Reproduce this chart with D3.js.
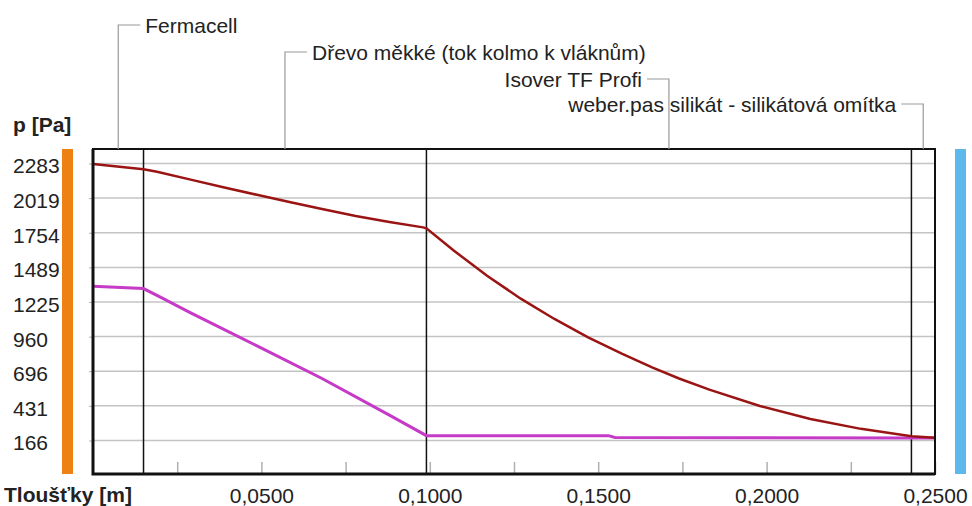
<!DOCTYPE html>
<html>
<head>
<meta charset="utf-8">
<script src="https://cdn.jsdelivr.net/npm/d3@7"></script>
<style>
  body { margin: 0; background: #fff; }
  svg { display: block; font-family: "Liberation Sans", Arial, sans-serif; }
  .tick text { fill: #222; font-size: 21px; }
</style>
</head>
<body>
<div class="chart"></div>
<script>
// layers (name, boundary at right edge in m)
var layerNames = ["Fermacell", "Dřevo měkké (tok kolmo k vláknům)", "Isover TF Profi", "weber.pas silikát - silikátová omítka"];
var layerEdges = [0, 0.015, 0.099, 0.243, 0.25];

// saturated pressure (dark red)
var satX = [0, 0.015, 0.019, 0.029, 0.039, 0.049, 0.059, 0.068, 0.078, 0.088, 0.098, 0.099,
            0.107, 0.117, 0.127, 0.137, 0.147, 0.157, 0.166, 0.174, 0.183, 0.198, 0.213, 0.228, 0.243, 0.25];
var satP = [2279, 2239, 2220, 2160, 2100, 2042, 1985, 1935, 1882, 1836, 1795, 1788,
            1620, 1425, 1250, 1095, 955, 830, 725, 640, 555, 430, 330, 255, 198, 188];

// partial pressure (magenta)
var parX = [0, 0.015, 0.020, 0.029, 0.049, 0.068, 0.088, 0.099, 0.153, 0.155, 0.243, 0.25];
var parP = [1345, 1327, 1262, 1142, 885, 640, 360, 203, 203, 189, 186, 186];

var yTicks = [166, 431, 696, 960, 1225, 1489, 1754, 2019, 2283];
var xTicks = [0.025, 0.05, 0.075, 0.1, 0.125, 0.15, 0.175, 0.2, 0.225, 0.25];

var svgWidth = 972, svgHeight = 506;
var plot = { left: 93, right: 935, top: 149, bottom: 474 };

var svg = d3.select(".chart").append("svg")
  .attr("width", svgWidth)
  .attr("height", svgHeight);

var x = d3.scaleLinear().domain([0, 0.25]).range([plot.left, plot.right]);
var y = d3.scaleLinear().domain([-90, 2394]).range([plot.bottom, plot.top]);

// side bars (interior / exterior)
svg.append("rect").attr("x", 62).attr("y", plot.top).attr("width", 11)
  .attr("height", plot.bottom - plot.top).attr("fill", "#ee8114");
svg.append("rect").attr("x", 955).attr("y", plot.top).attr("width", 11)
  .attr("height", plot.bottom - plot.top).attr("fill", "#5db9ec");

// grid lines
svg.append("g").selectAll("line")
  .data(yTicks).enter().append("line")
  .attr("x1", plot.left).attr("x2", plot.right)
  .attr("y1", d => y(d)).attr("y2", d => y(d))
  .attr("stroke", "#c4c4c4").attr("stroke-width", 1.5);

// x axis
var comma = d3.formatLocale({ decimal: ",", thousands: " ", grouping: [3], currency: ["", ""] }).format(".4f");
var xAxis = d3.axisBottom(x)
  .tickValues(xTicks)
  .tickSizeInner(-12).tickSizeOuter(0).tickPadding(14)
  .tickFormat(d => Math.round(d * 1000) % 50 === 0 ? comma(d) : "");
var gx = svg.append("g").attr("transform", `translate(0, ${plot.bottom})`).call(xAxis);
gx.select(".domain").remove();
gx.selectAll(".tick line").attr("stroke", "#b0b0b0").attr("stroke-width", 1.5);
gx.selectAll(".tick text").attr("font-family", "Liberation Sans, Arial, sans-serif");

// y axis
var yAxis = d3.axisLeft(y).tickValues(yTicks).tickSizeInner(4).tickSizeOuter(0).tickFormat(d3.format("d"));
var gy = svg.append("g").attr("transform", `translate(${plot.left}, 0)`).call(yAxis);
gy.select(".domain").remove();
gy.selectAll(".tick line").attr("stroke", "#b0b0b0");
gy.selectAll(".tick text")
  .attr("x", 13 - plot.left)
  .attr("dy", "0.45em")
  .attr("text-anchor", "start")
  .attr("font-family", "Liberation Sans, Arial, sans-serif");

// layer boundaries
svg.append("g").selectAll("line")
  .data(layerEdges.slice(1, -1)).enter().append("line")
  .attr("x1", d => x(d)).attr("x2", d => x(d))
  .attr("y1", plot.top).attr("y2", plot.bottom)
  .attr("stroke", "#111").attr("stroke-width", 1.5);

// curves
var line = d3.line().x(d => x(d[0])).y(d => y(d[1]));
svg.append("path")
  .datum(parX.map((v, i) => [v, parP[i]]))
  .attr("d", line).attr("fill", "none")
  .attr("stroke", "#c53ac6").attr("stroke-width", 3);
svg.append("path")
  .datum(satX.map((v, i) => [v, satP[i]]))
  .attr("d", line).attr("fill", "none")
  .attr("stroke", "#9b1414").attr("stroke-width", 2.5);

// frame
svg.append("rect")
  .attr("x", plot.left).attr("y", plot.top)
  .attr("width", plot.right - plot.left).attr("height", plot.bottom - plot.top)
  .attr("fill", "none").attr("stroke", "#111").attr("stroke-width", 2);
svg.append("path")
  .attr("d", `M${plot.left},${plot.top}V${plot.bottom}H${plot.right}`)
  .attr("fill", "none").attr("stroke", "#111").attr("stroke-width", 3);

// layer labels with leader lines
var labelBase = [33, 60, 87, 112];
var labels = svg.append("g");
layerNames.forEach(function (name, i) {
  var mid = x((layerEdges[i] + layerEdges[i + 1]) / 2);
  var ly = labelBase[i] - 8;
  var toRight = i < 2;
  var hx = toRight ? mid + 22 : mid - 22;
  labels.append("path")
    .attr("d", `M${mid},${plot.top}V${ly}H${hx}`)
    .attr("fill", "none").attr("stroke", "#9a9a9a").attr("stroke-width", 1.2);
  labels.append("text")
    .attr("x", toRight ? hx + 5 : hx - 5)
    .attr("y", labelBase[i])
    .attr("text-anchor", toRight ? "start" : "end")
    .attr("font-size", "21px").attr("fill", "#222")
    .text(name);
});

// axis titles
svg.append("text").attr("x", 13).attr("y", 132)
  .attr("font-size", "21px").attr("font-weight", "bold").attr("fill", "#222")
  .text("p [Pa]");
svg.append("text").attr("x", 4).attr("y", 502)
  .attr("font-size", "21px").attr("font-weight", "bold").attr("fill", "#222")
  .text("Tloušťky [m]");
</script>
</body>
</html>
